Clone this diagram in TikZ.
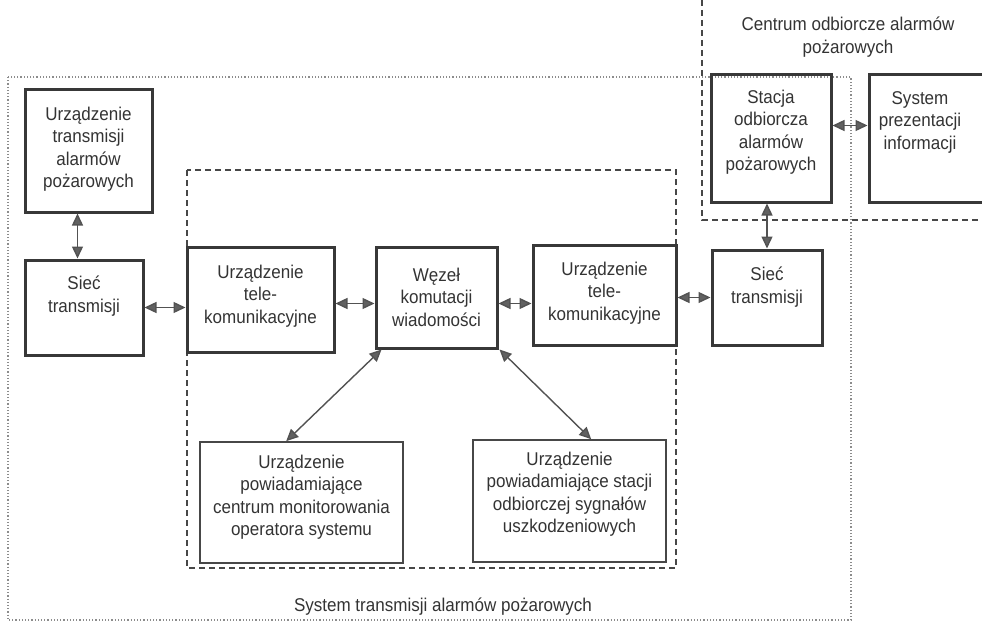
\documentclass[tikz,border=0pt]{standalone}
\usepackage{fontspec}
\setmainfont[FakeStretch=0.92]{Liberation Sans}
\usetikzlibrary{arrows.meta}
\begin{document}
\begin{tikzpicture}[x=1pt,y=-1pt,
  thickbox/.style={draw=black!78, line width=3pt, inner sep=0pt},
  thinbox/.style={draw=black!72, line width=1.6pt, inner sep=0pt},
  txt/.style={align=center, text=black!80, font=\fontsize{18.5}{22.5}\selectfont, inner sep=0pt},
  arr/.style={draw=black!68, line width=1.4pt,
    {Triangle[length=12pt,width=11pt,fill=black!62]}-{Triangle[length=12pt,width=11pt,fill=black!62]}},
  dashline/.style={draw=black!72, line width=1.3pt, dash pattern=on 6pt off 4pt},
  dotline/.style={draw=black!45, line width=1.2pt, dotted}]
\useasboundingbox (0,0) rectangle (982,623);

% group frames
\draw[dotline] (8,77) rectangle (851,620);
\draw[dashline] (187,170) rectangle (676,568);
\draw[dashline] (702,0) -- (702,220) -- (985,220);

% boxes
\node[thickbox, minimum width=127pt, minimum height=122pt] (box1) at (88.5,151) {};
\node[thickbox, minimum width=118pt, minimum height=95pt] (siec1) at (84,307.5) {};
\node[thickbox, minimum width=147pt, minimum height=105pt] (tele1) at (260.5,299.5) {};
\node[thickbox, minimum width=121pt, minimum height=101pt] (wezel) at (436.5,297.5) {};
\node[thickbox, minimum width=143pt, minimum height=100pt] (tele2) at (604.5,295) {};
\node[thickbox, minimum width=110pt, minimum height=95pt] (siec2) at (767,297.5) {};
\node[thickbox, minimum width=120pt, minimum height=127pt] (stacja) at (771,138.5) {};
\node[thickbox, minimum width=117pt, minimum height=127pt] (sysp) at (927.5,138.5) {};
\node[thinbox, minimum width=203pt, minimum height=121pt] (pow1) at (301.5,502.5) {};
\node[thinbox, minimum width=193pt, minimum height=122pt] (pow2) at (569.5,501) {};

% texts
\node[txt] (box1t) at (88.5,149) {Urządzenie\\transmisji\\alarmów\\pożarowych};
\node[txt] (siec1t) at (84,296) {Sieć\\transmisji};
\node[txt] (tele1t) at (260.5,296) {Urządzenie\\tele-\\komunikacyjne};
\node[txt] (wezelt) at (436.5,297) {Węzeł\\komutacji\\wiadomości};
\node[txt] (tele2t) at (604.5,293) {Urządzenie\\tele-\\komunikacyjne};
\node[txt] (siec2t) at (767,287) {Sieć\\transmisji};
\node[txt] (stacjat) at (771,132) {Stacja\\odbiorcza\\alarmów\\pożarowych};
\node[txt] (syspt) at (920,122) {System\\prezentacji\\informacji};
\node[txt] (pow1t) at (301.5,497) {Urządzenie\\powiadamiające\\centrum monitorowania\\operatora systemu};
\node[txt] (pow2t) at (569.5,494) {Urządzenie\\powiadamiające stacji\\odbiorczej sygnałów\\uszkodzeniowych};

\node[txt] (lab1) at (443,607) {System transmisji alarmów pożarowych};
\node[txt] (lab2) at (848,37) {Centrum odbiorcze alarmów\\pożarowych};

% connectors
\draw[arr] ([xshift=-11pt]box1.south) -- ([xshift=-11pt]box1.south |- siec1.north);
\draw[arr] (siec1.east) -- (siec1.east -| tele1.west);
\draw[arr] ([yshift=-4pt]tele1.east) -- ([yshift=-4pt]tele1.east -| wezel.west);
\draw[arr] ([yshift=-6pt]wezel.east) -- ([yshift=-6pt]wezel.east -| tele2.west);
\draw[arr] (siec2.west -| tele2.east) -- (siec2.west);
\draw[arr] (siec2.north) -- (siec2.north |- stacja.south);
\draw[arr] ([yshift=13pt]stacja.east) -- ([yshift=13pt]stacja.east -| sysp.west);
\draw[arr] ([xshift=7pt]wezel.south west) -- ([xshift=87pt]pow1.north west);
\draw[arr] ([xshift=1pt]wezel.south east) -- ([xshift=119pt]pow2.north west);
\end{tikzpicture}
\end{document}
